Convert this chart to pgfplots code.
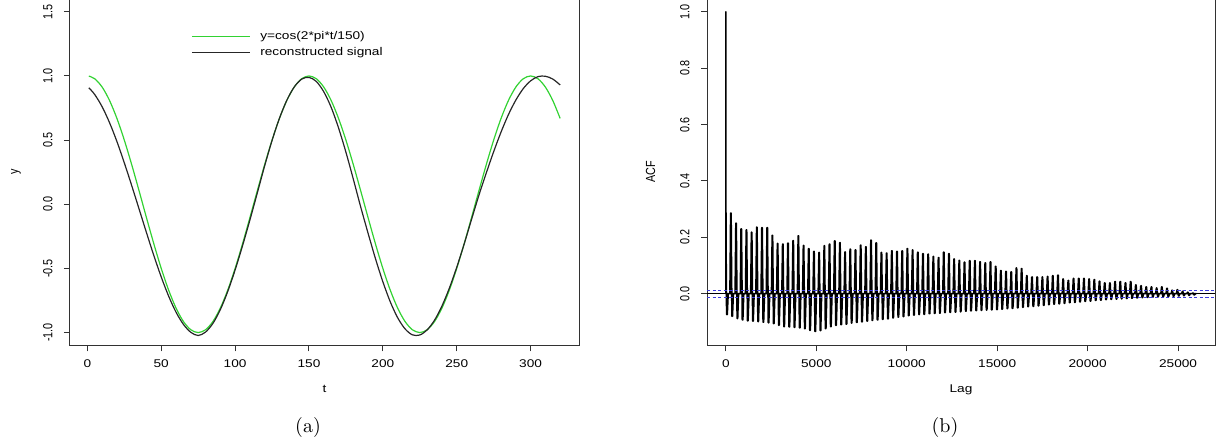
\documentclass[border=0pt]{standalone}
\usepackage{fontspec}
\usepackage{graphicx}
\usepackage{pgfplots}
\pgfplotsset{compat=1.18}
\newfontfamily\rfh[FakeStretch=1.22]{Liberation Sans}
\newfontfamily\rfv{Liberation Sans}
\newcommand\hf{\rfh\fontsize{5.6}{6.5}\selectfont}
\newcommand\vf{\rfv\fontsize{5.4}{6.5}\selectfont}
\newcommand\sy[1]{\scalebox{1}[1.22]{#1}}
\definecolor{rgreen}{RGB}{50,210,50}
\definecolor{rblue}{RGB}{60,60,220}
\definecolor{axgray}{RGB}{50,50,50}
\pgfplotsset{rstyle/.style={scale only axis,
  axis line style={axgray, line width=0.5pt},
  tick style={axgray, line width=0.5pt},
  tick align=outside, major tick length=3pt,
  xtick pos=bottom, ytick pos=left,
  scaled x ticks=false, scaled y ticks=false,
  xticklabel style={font=\hf, anchor=north, inner xsep=0pt, inner ysep=4pt},
  yticklabel style={font=\vf, rotate=90, anchor=south, inner sep=0pt},
  yticklabel shift=5.6pt,
  xlabel style={font=\hf, anchor=center},
  ylabel style={font=\vf, anchor=center},
  }}
\begin{document}
\begin{tikzpicture}
\useasboundingbox (0,0) rectangle (613pt,224pt);
\begin{axis}[rstyle,
  at={(35pt,51.3pt)}, anchor=south west,
  width=254.5pt, height=173.2pt,
  xmin=-11.76, xmax=332.76, ymin=-1.1, ymax=1.6,
  xtick={0,50,100,150,200,250,300},
  xticklabels={0,50,100,150,200,250,300},
  ytick={-1,-0.5,0,0.5,1,1.5},
  yticklabels={\sy{-1.0},\sy{-0.5},\sy{0.0},\sy{0.5},\sy{1.0},\sy{1.5}},
  xlabel={t}, ylabel={\sy{y}},
  xlabel style={at={(axis description cs:0.5,-0.127)}},
  ylabel style={at={(axis description cs:-0.106,0.5)}},
]
\addplot[rgreen, line width=0.6pt, smooth] coordinates {
(1,0.99912)(5,0.97815)(10,0.91355)(15,0.80902)(20,0.66913)(25,0.5)(30,0.30902)(35,0.10453)
(40,-0.10453)(45,-0.30902)(50,-0.5)(55,-0.66913)(60,-0.80902)(65,-0.91355)(70,-0.97815)(75,-1)
(80,-0.97815)(85,-0.91355)(90,-0.80902)(95,-0.66913)(100,-0.5)(105,-0.30902)(110,-0.10453)
(115,0.10453)(120,0.30902)(125,0.5)(130,0.66913)(135,0.80902)(140,0.91355)(145,0.97815)(150,1)
(155,0.97815)(160,0.91355)(165,0.80902)(170,0.66913)(175,0.5)(180,0.30902)(185,0.10453)
(190,-0.10453)(195,-0.30902)(200,-0.5)(205,-0.66913)(210,-0.80902)(215,-0.91355)(220,-0.97815)(225,-1)
(230,-0.97815)(235,-0.91355)(240,-0.80902)(245,-0.66913)(250,-0.5)(255,-0.30902)(260,-0.10453)
(265,0.10453)(270,0.30902)(275,0.5)(280,0.66913)(285,0.80902)(290,0.91355)(295,0.97815)(300,1)
(305,0.97815)(310,0.91355)(315,0.80902)(320,0.66913)};
\addplot[black!85, line width=0.6pt, smooth] coordinates {
(1,0.908)(5,0.855)(10,0.760)(15,0.636)(20,0.489)(25,0.323)(30,0.146)(35,-0.037)(40,-0.221)
(45,-0.400)(50,-0.567)(55,-0.716)(60,-0.841)(65,-0.936)(70,-0.998)(75,-1.023)(80,-0.996)
(85,-0.928)(90,-0.821)(95,-0.680)(100,-0.512)(105,-0.324)(110,-0.123)(115,0.087)(120,0.300)
(125,0.497)(130,0.670)(135,0.811)(140,0.914)(145,0.975)(150,0.989)(155,0.957)(160,0.877)
(165,0.756)(170,0.595)(175,0.406)(180,0.196)(185,-0.021)(190,-0.226)(195,-0.424)(200,-0.604)
(205,-0.760)(210,-0.884)(215,-0.971)(220,-1.018)(225,-1.019)(230,-0.979)(235,-0.903)(240,-0.793)
(245,-0.654)(250,-0.491)(255,-0.311)(260,-0.119)(265,0.070)(270,0.244)(275,0.410)(280,0.563)
(285,0.699)(290,0.812)(295,0.901)(300,0.962)(305,0.995)(310,0.998)(315,0.976)(320,0.930)};
\draw[rgreen, line width=0.6pt] (axis cs:70.8,1.305) -- (axis cs:110.1,1.305);
\draw[black!85, line width=0.6pt] (axis cs:70.8,1.18) -- (axis cs:110.1,1.18);
\node[font=\hf, anchor=west, inner sep=0pt] at (axis cs:116.8,1.305) {y=cos(2*pi*t/150)};
\node[font=\hf, anchor=west, inner sep=0pt] at (axis cs:116.8,1.18) {reconstructed signal};
\end{axis}
\begin{axis}[rstyle,
  at={(353.5pt,51.3pt)}, anchor=south west,
  width=254pt, height=173.2pt,
  xmin=-1040, xmax=27040, ymin=-0.1835, ymax=1.0455,
  xtick={0,5000,10000,15000,20000,25000},
  xticklabels={0,5000,10000,15000,20000,25000},
  ytick={0,0.2,0.4,0.6,0.8,1.0},
  yticklabels={\sy{0.0},\sy{0.2},\sy{0.4},\sy{0.6},\sy{0.8},\sy{1.0}},
  xlabel={Lag}, ylabel={\sy{ACF}},
  xlabel style={at={(axis description cs:0.5,-0.127)}},
  ylabel style={at={(axis description cs:-0.111,0.5)}},
]
\addplot[fill=black, draw=black, line width=0.8pt, line join=round] coordinates {
(0,0)(0,1)(6,0.3)(25,0.05)(45,-0.074)(80,-0.074)(130,0)
(227,0)(267,0.286)(292,0.286)(337,-0.080)(367,-0.080)(417,0)
(514,0)(554,0.250)(579,0.250)(624,-0.088)(654,-0.088)(704,0)
(801,0)(841,0.230)(866,0.230)(911,-0.093)(941,-0.093)(991,0)
(1088,0)(1128,0.226)(1153,0.226)(1198,-0.096)(1228,-0.096)(1278,0)
(1375,0)(1415,0.218)(1440,0.218)(1485,-0.097)(1515,-0.097)(1565,0)
(1662,0)(1702,0.236)(1727,0.236)(1772,-0.099)(1802,-0.099)(1852,0)
(1949,0)(1989,0.234)(2014,0.234)(2059,-0.101)(2089,-0.101)(2139,0)
(2236,0)(2276,0.234)(2301,0.234)(2346,-0.103)(2376,-0.103)(2426,0)
(2523,0)(2563,0.207)(2588,0.207)(2633,-0.106)(2663,-0.106)(2713,0)
(2810,0)(2850,0.178)(2875,0.178)(2920,-0.112)(2950,-0.112)(3000,0)
(3097,0)(3137,0.176)(3162,0.176)(3207,-0.117)(3237,-0.117)(3287,0)
(3384,0)(3424,0.179)(3449,0.179)(3494,-0.118)(3524,-0.118)(3574,0)
(3671,0)(3711,0.188)(3736,0.188)(3781,-0.119)(3811,-0.119)(3861,0)
(3958,0)(3998,0.205)(4023,0.205)(4068,-0.121)(4098,-0.121)(4148,0)
(4245,0)(4285,0.171)(4310,0.171)(4355,-0.124)(4385,-0.124)(4435,0)
(4532,0)(4572,0.160)(4597,0.160)(4642,-0.130)(4672,-0.130)(4722,0)
(4819,0)(4859,0.150)(4884,0.150)(4929,-0.134)(4959,-0.134)(5009,0)
(5106,0)(5146,0.146)(5171,0.146)(5216,-0.131)(5246,-0.131)(5296,0)
(5393,0)(5433,0.170)(5458,0.170)(5503,-0.124)(5533,-0.124)(5583,0)
(5680,0)(5720,0.176)(5745,0.176)(5790,-0.117)(5820,-0.117)(5870,0)
(5967,0)(6007,0.187)(6032,0.187)(6077,-0.112)(6107,-0.112)(6157,0)
(6254,0)(6294,0.181)(6319,0.181)(6364,-0.110)(6394,-0.110)(6444,0)
(6541,0)(6581,0.148)(6606,0.148)(6651,-0.108)(6681,-0.108)(6731,0)
(6828,0)(6868,0.158)(6893,0.158)(6938,-0.104)(6968,-0.104)(7018,0)
(7115,0)(7155,0.155)(7180,0.155)(7225,-0.102)(7255,-0.102)(7305,0)
(7402,0)(7442,0.172)(7467,0.172)(7512,-0.100)(7542,-0.100)(7592,0)
(7689,0)(7729,0.166)(7754,0.166)(7799,-0.097)(7829,-0.097)(7879,0)
(7976,0)(8016,0.190)(8041,0.190)(8086,-0.095)(8116,-0.095)(8166,0)
(8263,0)(8303,0.180)(8328,0.180)(8373,-0.093)(8403,-0.093)(8453,0)
(8550,0)(8590,0.146)(8615,0.146)(8660,-0.091)(8690,-0.091)(8740,0)
(8837,0)(8877,0.144)(8902,0.144)(8947,-0.089)(8977,-0.089)(9027,0)
(9124,0)(9164,0.152)(9189,0.152)(9234,-0.086)(9264,-0.086)(9314,0)
(9411,0)(9451,0.150)(9476,0.150)(9521,-0.083)(9551,-0.083)(9601,0)
(9698,0)(9738,0.152)(9763,0.152)(9808,-0.081)(9838,-0.081)(9888,0)
(9985,0)(10025,0.160)(10050,0.160)(10095,-0.078)(10125,-0.078)(10175,0)
(10272,0)(10312,0.155)(10337,0.155)(10382,-0.076)(10412,-0.076)(10462,0)
(10559,0)(10599,0.147)(10624,0.147)(10669,-0.074)(10699,-0.074)(10749,0)
(10846,0)(10886,0.142)(10911,0.142)(10956,-0.073)(10986,-0.073)(11036,0)
(11133,0)(11173,0.140)(11198,0.140)(11243,-0.071)(11273,-0.071)(11323,0)
(11420,0)(11460,0.132)(11485,0.132)(11530,-0.070)(11560,-0.070)(11610,0)
(11707,0)(11747,0.128)(11772,0.128)(11817,-0.069)(11847,-0.069)(11897,0)
(11994,0)(12034,0.147)(12059,0.147)(12104,-0.067)(12134,-0.067)(12184,0)
(12281,0)(12321,0.142)(12346,0.142)(12391,-0.066)(12421,-0.066)(12471,0)
(12568,0)(12608,0.123)(12633,0.123)(12678,-0.065)(12708,-0.065)(12758,0)
(12855,0)(12895,0.118)(12920,0.118)(12965,-0.064)(12995,-0.064)(13045,0)
(13142,0)(13182,0.112)(13207,0.112)(13252,-0.062)(13282,-0.062)(13332,0)
(13429,0)(13469,0.117)(13494,0.117)(13539,-0.061)(13569,-0.061)(13619,0)
(13716,0)(13756,0.117)(13781,0.117)(13826,-0.060)(13856,-0.060)(13906,0)
(14003,0)(14043,0.113)(14068,0.113)(14113,-0.059)(14143,-0.059)(14193,0)
(14290,0)(14330,0.109)(14355,0.109)(14400,-0.058)(14430,-0.058)(14480,0)
(14577,0)(14617,0.113)(14642,0.113)(14687,-0.057)(14717,-0.057)(14767,0)
(14864,0)(14904,0.097)(14929,0.097)(14974,-0.056)(15004,-0.056)(15054,0)
(15151,0)(15191,0.082)(15216,0.082)(15261,-0.055)(15291,-0.055)(15341,0)
(15438,0)(15478,0.079)(15503,0.079)(15548,-0.053)(15578,-0.053)(15628,0)
(15725,0)(15765,0.077)(15790,0.077)(15835,-0.052)(15865,-0.052)(15915,0)
(16012,0)(16052,0.091)(16077,0.091)(16122,-0.050)(16152,-0.050)(16202,0)
(16299,0)(16339,0.089)(16364,0.089)(16409,-0.048)(16439,-0.048)(16489,0)
(16586,0)(16626,0.064)(16651,0.064)(16696,-0.046)(16726,-0.046)(16776,0)
(16873,0)(16913,0.059)(16938,0.059)(16983,-0.045)(17013,-0.045)(17063,0)
(17160,0)(17200,0.059)(17225,0.059)(17270,-0.043)(17300,-0.043)(17350,0)
(17447,0)(17487,0.059)(17512,0.059)(17557,-0.041)(17587,-0.041)(17637,0)
(17734,0)(17774,0.061)(17799,0.061)(17844,-0.039)(17874,-0.039)(17924,0)
(18021,0)(18061,0.064)(18086,0.064)(18131,-0.037)(18161,-0.037)(18211,0)
(18308,0)(18348,0.066)(18373,0.066)(18418,-0.036)(18448,-0.036)(18498,0)
(18595,0)(18635,0.052)(18660,0.052)(18705,-0.034)(18735,-0.034)(18785,0)
(18882,0)(18922,0.047)(18947,0.047)(18992,-0.032)(19022,-0.032)(19072,0)
(19169,0)(19209,0.054)(19234,0.054)(19279,-0.031)(19309,-0.031)(19359,0)
(19456,0)(19496,0.054)(19521,0.054)(19566,-0.029)(19596,-0.029)(19646,0)
(19743,0)(19783,0.054)(19808,0.054)(19853,-0.027)(19883,-0.027)(19933,0)
(20030,0)(20070,0.052)(20095,0.052)(20140,-0.026)(20170,-0.026)(20220,0)
(20317,0)(20357,0.050)(20382,0.050)(20427,-0.024)(20457,-0.024)(20507,0)
(20604,0)(20644,0.044)(20669,0.044)(20714,-0.023)(20744,-0.023)(20794,0)
(20891,0)(20931,0.038)(20956,0.038)(21001,-0.021)(21031,-0.021)(21081,0)
(21178,0)(21218,0.038)(21243,0.038)(21288,-0.020)(21318,-0.020)(21368,0)
(21465,0)(21505,0.043)(21530,0.043)(21575,-0.019)(21605,-0.019)(21655,0)
(21752,0)(21792,0.043)(21817,0.043)(21862,-0.018)(21892,-0.018)(21942,0)
(22039,0)(22079,0.038)(22104,0.038)(22149,-0.017)(22179,-0.017)(22229,0)
(22326,0)(22366,0.043)(22391,0.043)(22436,-0.016)(22466,-0.016)(22516,0)
(22613,0)(22653,0.031)(22678,0.031)(22723,-0.015)(22753,-0.015)(22803,0)
(22900,0)(22940,0.028)(22965,0.028)(23010,-0.014)(23040,-0.014)(23090,0)
(23187,0)(23227,0.024)(23252,0.024)(23297,-0.013)(23327,-0.013)(23377,0)
(23474,0)(23514,0.024)(23539,0.024)(23584,-0.012)(23614,-0.012)(23664,0)
(23761,0)(23801,0.020)(23826,0.020)(23871,-0.011)(23901,-0.011)(23951,0)
(24048,0)(24088,0.024)(24113,0.024)(24158,-0.011)(24188,-0.011)(24238,0)
(24335,0)(24375,0.019)(24400,0.019)(24445,-0.010)(24475,-0.010)(24525,0)
(24622,0)(24662,0.012)(24687,0.012)(24732,-0.009)(24762,-0.009)(24812,0)
(24909,0)(24949,0.014)(24974,0.014)(25019,-0.008)(25049,-0.008)(25099,0)
(25196,0)(25236,0.008)(25261,0.008)(25306,-0.007)(25336,-0.007)(25386,0)
(25483,0)(25523,0.005)(25548,0.005)(25593,-0.006)(25623,-0.006)(25673,0)
(25770,0)(25810,0.002)(25835,0.002)(25880,-0.004)(25910,-0.004)(25960,0)
(26000,0)} \closedcycle;
\addplot[black, line width=0.5pt] coordinates {(-1040,0)(27040,0)};
\addplot[rblue, line width=0.5pt, dash pattern=on 1.6pt off 1.2pt] coordinates {(-1040,0.0125)(27040,0.0125)};
\addplot[rblue, line width=0.5pt, dash pattern=on 1.6pt off 1.2pt] coordinates {(-1040,-0.0125)(27040,-0.0125)};
\end{axis}
\node[font=\fontsize{10}{12}\selectfont] at (154pt,10pt) {(a)};
\node[font=\fontsize{10}{12}\selectfont] at (472.5pt,10pt) {(b)};
\end{tikzpicture}
\end{document}
